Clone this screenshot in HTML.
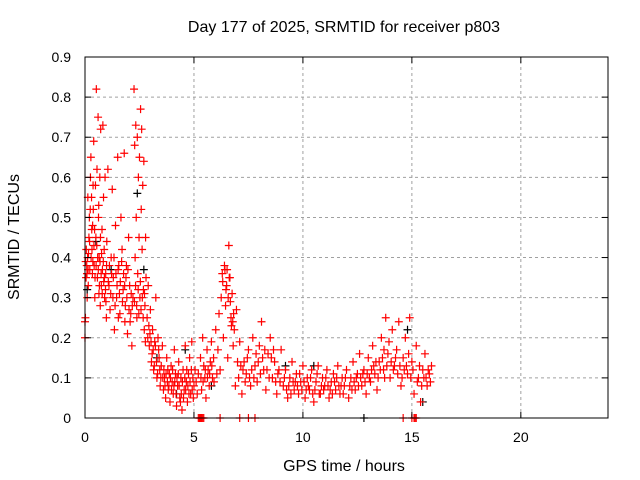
<!DOCTYPE html>
<html><head><meta charset="utf-8"><style>
body{margin:0;background:#fff}
svg{display:block;font-family:"Liberation Sans",sans-serif}
</style></head><body>
<svg id="chart" width="640" height="480" viewBox="0 0 640 480" xmlns="http://www.w3.org/2000/svg">
<rect width="640" height="480" fill="#fff"/>
<text x="344" y="32" font-size="16" text-anchor="middle">Day 177 of 2025, SRMTID for receiver p803</text>
<text x="344" y="471" font-size="16" text-anchor="middle">GPS time / hours</text>
<text x="19" y="237" font-size="16" text-anchor="middle" transform="rotate(-90 19 237)">SRMTID / TECUs</text>
<g id="grid"></g>
<g id="marks"></g>
<g id="axes"></g>
</svg>
<script>
const xTicks=[0,5,10,15,20];
const yTicks=[0,0.1,0.2,0.3,0.4,0.5,0.6,0.7,0.8,0.9];
const yTickLabels=["0","0.1","0.2","0.3","0.4","0.5","0.6","0.7","0.8","0.9"];
const blackPoints=[[0.1,0.32],[0.5,0.44],[1.2,0.37],[2.7,0.37],[3.3,0.15],[4.6,0.17],[5.8,0.08],[9.2,0.13],[10.5,0.13],[12.8,0],[14.8,0.22],[15.5,0.04],[2.4,0.56],[4.2,0.06]];
const redPoints=[[0,0.24],[0,0.2],[0.02,0.25],[0.05,0.35],[0.08,0.38],[0.1,0.3],[0.12,0.4],[0.15,0.33],[0.18,0.45],[0.2,0.5],[0.22,0.37],[0.25,0.6],[0.27,0.65],[0.3,0.55],[0.32,0.42],[0.35,0.48],[0.38,0.52],[0.4,0.69],[0.42,0.38],[0.45,0.3],[0.48,0.58],[0.5,0.45],
[0.52,0.82],[0.55,0.62],[0.57,0.35],[0.6,0.75],[0.62,0.5],[0.65,0.4],[0.68,0.6],[0.7,0.28],[0.72,0.72],[0.75,0.33],[0.78,0.47],[0.8,0.37],[0.82,0.73],[0.85,0.55],[0.88,0.42],[0.9,0.3],[0.92,0.6],[0.95,0.36],[0.98,0.25],[1.0,0.44],
[0.06,0.42],[0.14,0.37],[0.24,0.52],[0.34,0.36],[0.44,0.47],[0.58,0.4],[0.66,0.33],[0.76,0.41],[0.86,0.34],[0.96,0.29],
[0.03,0.39],[0.09,0.36],[0.16,0.41],[0.21,0.44],[0.28,0.4],[0.31,0.47],[0.36,0.39],[0.41,0.43],[0.46,0.35],[0.51,0.38],[0.54,0.43],[0.61,0.37],[0.64,0.31],[0.69,0.39],[0.74,0.36],[0.79,0.31],[0.84,0.39],[0.89,0.35],[0.94,0.32],[0.99,0.38],[0.13,0.55],[0.37,0.58],[0.63,0.53],[0.71,0.45],
[1.05,0.62],[1.1,0.33],[1.15,0.27],[1.2,0.4],[1.25,0.57],[1.3,0.35],[1.35,0.22],[1.4,0.48],[1.45,0.3],[1.5,0.65],[1.55,0.38],[1.6,0.26],[1.65,0.5],[1.7,0.42],[1.75,0.32],[1.8,0.66],[1.85,0.28],[1.9,0.38],[1.95,0.21],[2.0,0.45],[2.05,0.33],[2.1,0.26],[2.15,0.18],[2.2,0.3],
[1.12,0.38],[1.28,0.3],[1.42,0.36],[1.62,0.34],[1.72,0.29],[1.88,0.35],[2.02,0.27],[2.12,0.31],
[1.07,0.34],[1.18,0.31],[1.22,0.36],[1.33,0.4],[1.38,0.28],[1.47,0.33],[1.52,0.37],[1.58,0.31],[1.68,0.39],[1.77,0.36],[1.82,0.33],[1.92,0.3],[1.97,0.37],[2.07,0.24],[2.17,0.28],[1.53,0.25],[1.83,0.24],
[2.25,0.82],[2.28,0.68],[2.3,0.4],[2.33,0.73],[2.35,0.5],[2.38,0.25],[2.4,0.7],[2.42,0.36],[2.45,0.6],[2.48,0.45],[2.5,0.65],[2.52,0.3],[2.55,0.77],[2.58,0.52],[2.6,0.72],[2.62,0.42],[2.65,0.58],[2.68,0.32],[2.7,0.64],[2.72,0.22],[2.75,0.28],[2.78,0.45],[2.8,0.35],
[2.27,0.29],[2.32,0.33],[2.37,0.28],[2.44,0.32],[2.47,0.26],[2.54,0.34],[2.57,0.27],[2.63,0.3],[2.67,0.25],[2.73,0.31],[2.77,0.19],
[2.85,0.25],[2.9,0.33],[2.95,0.18],[3.0,0.27],[3.05,0.14],[3.1,0.22],[3.15,0.12],[3.2,0.19],[3.25,0.3],[3.3,0.1],[3.35,0.2],[3.4,0.15],[3.45,0.08],[3.5,0.13],
[2.88,0.2],[2.93,0.23],[2.98,0.21],[3.03,0.19],[3.08,0.16],[3.13,0.17],[3.18,0.13],[3.23,0.18],[3.28,0.14],[3.33,0.11],[3.38,0.17],[3.43,0.12],[3.48,0.1],
[3.55,0.18],[3.6,0.07],[3.65,0.1],[3.7,0.05],[3.75,0.15],[3.8,0.12],[3.85,0.08],[3.9,0.04],[3.95,0.13],[4.0,0.09],[4.05,0.06],[4.1,0.17],[4.15,0.11],[4.2,0.03],[4.25,0.08],[4.3,0.14],[4.35,0.05],[4.4,0.1],[4.45,0.02],[4.5,0.12],[4.55,0.07],[4.6,0.18],[4.65,0.09],[4.7,0.04],[4.75,0.11],[4.8,0.15],[4.85,0.06],[4.9,0.19],[4.95,0.1],[5.0,0.08],
[3.62,0.12],[3.78,0.09],[3.92,0.1],[4.08,0.08],[4.28,0.11],[4.42,0.06],[4.58,0.1],[4.72,0.08],[4.88,0.12],
[3.57,0.1],[3.67,0.08],[3.72,0.11],[3.82,0.07],[3.87,0.11],[3.97,0.07],[4.02,0.12],[4.12,0.09],[4.18,0.06],[4.22,0.1],[4.32,0.08],[4.38,0.04],[4.47,0.09],[4.52,0.05],[4.62,0.07],[4.67,0.12],[4.77,0.06],[4.82,0.09],[4.92,0.07],[4.97,0.05],
[5.05,0.12],[5.1,0.09],[5.15,0.06],[5.2,0.11],[5.3,0.15],[5.35,0.07],[5.4,0.2],[5.45,0.13],[5.5,0.1],[5.55,0.05],[5.6,0.17],[5.65,0.12],[5.7,0.08],[5.75,0.14],[5.8,0.19],[5.85,0.1],[5.9,0.15],[6.0,0.22],[6.05,0.11],
[5.32,0.1],[5.42,0.09],[5.52,0.12],[5.62,0.1],[5.72,0.11],[5.82,0.13],[5.92,0.09],
[6.1,0.17],[6.15,0.26],[6.2,0.12],[6.25,0.3],[6.3,0.36],[6.35,0.2],[6.4,0.38],[6.45,0.28],[6.5,0.33],[6.55,0.15],[6.6,0.43],[6.65,0.35],[6.7,0.25],[6.75,0.31],[6.8,0.18],[6.85,0.22],[6.9,0.08],[6.95,0.27],[7.0,0.14],
[6.32,0.34],[6.42,0.37],[6.47,0.32],[6.52,0.37],[6.57,0.3],[6.62,0.35],[6.67,0.29],[6.72,0.23],[6.78,0.24],[6.82,0.26],
[7.05,0.1],[7.1,0.19],[7.2,0.06],[7.3,0.14],[7.4,0.11],[7.5,0.17],[7.6,0.08],[7.7,0.2],[7.8,0.13],[7.9,0.09],[8.0,0.18],[8.1,0.24],[8.2,0.12],[8.3,0.07],[8.4,0.16],[8.5,0.2],[8.6,0.1],[8.7,0.14],[8.8,0.06],[8.9,0.12],[9.0,0.17],
[7.25,0.12],[7.55,0.1],[7.85,0.16],[8.15,0.15],[8.45,0.1],[8.75,0.09],
[7.15,0.13],[7.35,0.09],[7.45,0.15],[7.65,0.12],[7.75,0.1],[7.95,0.14],[8.05,0.11],[8.25,0.17],[8.35,0.12],[8.55,0.15],[8.65,0.17],[8.85,0.11],[8.95,0.09],
[9.1,0.08],[9.2,0.12],[9.3,0.05],[9.4,0.1],[9.5,0.14],[9.6,0.07],[9.7,0.11],[9.8,0.06],[9.9,0.09],[10.0,0.13],[10.1,0.05],[10.2,0.1],[10.3,0.07],[10.4,0.12],[10.5,0.04],[10.6,0.09],[10.7,0.13],[10.8,0.06],[10.9,0.1],[11.0,0.08],[11.1,0.12],[11.2,0.05],[11.3,0.09],[11.4,0.11],[11.5,0.07],[11.6,0.13],[11.7,0.06],[11.8,0.1],[11.9,0.08],[12.0,0.12],
[9.35,0.08],[9.65,0.09],[9.95,0.07],[10.25,0.08],[10.55,0.07],[10.85,0.08],[11.15,0.08],[11.45,0.09],[11.75,0.08],
[9.15,0.1],[9.25,0.07],[9.45,0.06],[9.55,0.09],[9.75,0.08],[9.85,0.11],[10.05,0.09],[10.15,0.07],[10.35,0.1],[10.45,0.06],[10.65,0.11],[10.75,0.06],[10.95,0.07],[11.05,0.1],[11.25,0.07],[11.35,0.06],[11.55,0.1],[11.65,0.08],[11.85,0.06],[11.95,0.1],
[12.1,0.05],[12.2,0.1],[12.3,0.14],[12.4,0.07],[12.5,0.11],[12.6,0.16],[12.7,0.08],[12.8,0.12],[12.9,0.06],[13.0,0.15],[13.1,0.09],[13.2,0.18],[13.3,0.11],[13.4,0.07],[13.5,0.14],[13.6,0.2],[13.7,0.12],[13.8,0.25],[13.9,0.16],[14.0,0.1],
[12.15,0.08],[12.25,0.07],[12.35,0.09],[12.45,0.1],[12.55,0.08],[12.65,0.1],[12.75,0.11],[12.85,0.09],[12.95,0.11],[13.05,0.1],[13.15,0.12],[13.25,0.13],[13.35,0.14],[13.45,0.1],[13.55,0.12],[13.65,0.15],[13.75,0.1],[13.85,0.13],[13.95,0.19],[13.72,0.17],
[14.1,0.22],[14.2,0.13],[14.3,0.17],[14.4,0.24],[14.5,0.08],[14.6,0.15],[14.7,0.2],[14.8,0.11],[14.9,0.25],[15.0,0.14],[15.1,0.06],[15.2,0.18],[15.3,0.1],[15.4,0.04],[15.5,0.12],[15.6,0.16],[15.7,0.08],[15.8,0.11],[15.9,0.13],
[14.05,0.14],[14.15,0.12],[14.25,0.15],[14.35,0.11],[14.45,0.13],[14.55,0.1],[14.65,0.12],[14.75,0.13],[14.85,0.16],[14.95,0.1],[15.05,0.12],[15.25,0.09],[15.35,0.13],[15.45,0.08],[15.55,0.1],[15.65,0.1],[15.75,0.12],[15.85,0.09],
[5.2,0],[5.25,0],[5.3,0],[5.35,0],[5.4,0],[5.45,0],[6.2,0],[7.1,0],[7.5,0],[7.8,0],[14.6,0],[15.0,0],[15.1,0],[15.15,0],[15.2,0]];
const X0=85,X1=608,Y0=418,Y1=57,XMAX=24,YMAX=0.9;
function sx(v){return X0+(X1-X0)*v/XMAX;}
function sy(v){return Y0-(Y0-Y1)*v/YMAX;}
const NS="http://www.w3.org/2000/svg";
function mk(tag,attrs,parent){const e=document.createElementNS(NS,tag);for(const k in attrs)e.setAttribute(k,attrs[k]);parent.appendChild(e);return e;}
const grid=document.getElementById('grid'),axes=document.getElementById('axes'),marks=document.getElementById('marks');
yTicks.forEach((v,i)=>{
  const y=sy(v);
  if(i>0&&i<yTicks.length-1){const g=mk('line',{x1:X0,x2:X1,y1:y,y2:y,stroke:'#a0a0a0','stroke-dasharray':'3,3'},grid);
  
  }
  mk('line',{x1:X0,x2:X0+6,y1:y,y2:y,stroke:'#000'},axes);
  mk('line',{x1:X1,x2:X1-6,y1:y,y2:y,stroke:'#000'},axes);
  const t=mk('text',{x:X0-14,y:y+5,'font-size':14,'text-anchor':'end'},axes);
  t.textContent=yTickLabels[i];
  
  
});
xTicks.forEach(v=>{
  const x=sx(v);
  if(v>0){const g=mk('line',{x1:x,x2:x,y1:Y0,y2:Y1,stroke:'#a0a0a0','stroke-dasharray':'3,3'},grid);
  
  }
  mk('line',{x1:x,x2:x,y1:Y0,y2:Y0-6,stroke:'#000'},axes);
  mk('line',{x1:x,x2:x,y1:Y1,y2:Y1+6,stroke:'#000'},axes);
  const t=mk('text',{x:x,y:Y0+24,'font-size':14,'text-anchor':'middle'},axes);
  t.textContent=String(v);
  
  
});
const frame=mk('rect',{x:X0,y:Y1,width:X1-X0,height:Y0-Y1,fill:'none',stroke:'#000'},axes);


function cross(p,color){
  const x=sx(p[0]),y=sy(p[1]);
  const e=mk('path',{d:`M${x-4} ${y}H${x+4}M${x} ${y-4}V${y+4}`,stroke:color,'stroke-width':1.2,fill:'none'},marks);
  
  
}
blackPoints.forEach(p=>cross(p,'#000'));
redPoints.forEach(p=>cross(p,'#ff0000'));
</script>
</body></html>
